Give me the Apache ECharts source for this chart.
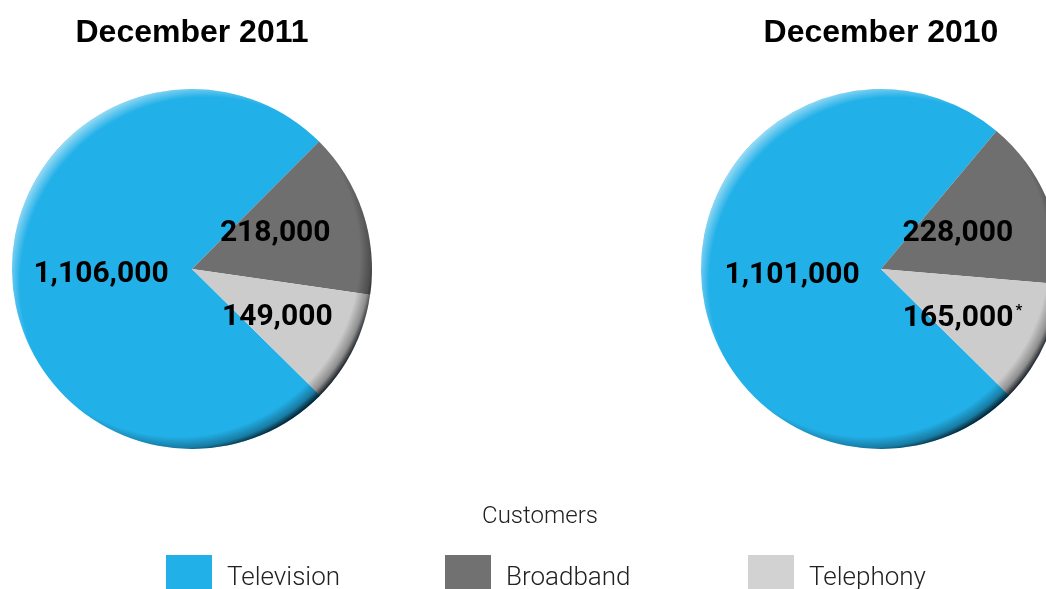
<!DOCTYPE html>
<html>
<head>
<meta charset="utf-8">
<script src="https://cdn.jsdelivr.net/npm/echarts@6/dist/echarts.min.js"></script>
<style>
html,body{margin:0;padding:0;background:#fff;}
#chart{width:1046px;height:589px;}
</style>
</head>
<body>
<div id="chart"></div>
<script>
const categories = ['Television', 'Broadband', 'Telephony'];
const customers2011 = [1106000, 218000, 149000];
const customers2010 = [1101000, 228000, 165000];
const notes2011 = ['', '', ''];
const notes2010 = ['', '', '*'];
const pieTitles = ['December 2011', 'December 2010'];
const legendTitle = 'Customers';

// styling
const colors = ['#22b0e8', '#6f6f6f', '#cccccc'];
const legendColors = ['#22b0e8', '#717171', '#d2d2d2'];
const R = 180;
const centers = [[192, 269], [881, 269]];
const titleLefts = [187, 876];
const labelOffsets2011 = [[2, 5], [-5, -6], [2, 7]];
const labelOffsets2010 = [[4, 2], [-9, 0], [-3, 11]];

function fmt(v) { return v.toLocaleString('en-US'); }

function mainSeries(values, notes, center, offsets) {
  return {
    type: 'pie',
    center: center,
    radius: R,
    startAngle: 315.4,
    clockwise: true,
    avoidLabelOverlap: false,
    silent: true,
    z: 2,
    label: {
      show: true,
      position: 'inside',
      formatter: function (p) {
        const n = notes[p.dataIndex];
        return '{v|' + fmt(p.value) + '}' + (n ? '{s|' + n + '}' : '');
      },
      rich: {
        v: { fontFamily: 'Roboto', fontWeight: 'bold', fontSize: 30, color: '#000' },
        s: { fontFamily: 'Roboto', fontWeight: 'bold', fontSize: 15, color: '#000', verticalAlign: 'top', padding: [0, 0, 14, 2] }
      }
    },
    labelLine: { show: false },
    emphasis: { disabled: true },
    data: categories.map((c, i) => ({
      name: c, value: values[i],
      itemStyle: { color: colors[i] },
      label: { offset: offsets[i] }
    }))
  };
}

function overlay(center, dx, stops) {
  return {
    type: 'pie',
    center: center,
    radius: R,
    silent: true,
    z: 3,
    label: { show: false },
    labelLine: { show: false },
    emphasis: { disabled: true },
    data: [{
      name: '',
      value: 1,
      itemStyle: {
        color: {
          type: 'radial', global: true,
          x: center[0] + dx, y: center[1] + dx, r: R + Math.abs(dx) * Math.SQRT2,
          colorStops: stops
        }
      }
    }]
  };
}

const shadowStops = [
  { offset: 0, color: 'rgba(0,0,0,0)' },
  { offset: 0.91, color: 'rgba(0,0,0,0)' },
  { offset: 0.965, color: 'rgba(0,0,0,0.3)' },
  { offset: 1, color: 'rgba(0,10,20,0.9)' }
];
const lightStops = [
  { offset: 0, color: 'rgba(255,255,255,0)' },
  { offset: 0.93, color: 'rgba(255,255,255,0)' },
  { offset: 1, color: 'rgba(255,255,255,0.55)' }
];

const legendLefts = [166, 445, 748];

const option = {
  animation: false,
  backgroundColor: '#ffffff',
  title: [
    { text: pieTitles[0], left: titleLefts[0], top: 12, textAlign: 'center',
      textStyle: { fontFamily: 'Liberation Sans', fontWeight: 'bold', fontSize: 32, color: '#000' } },
    { text: pieTitles[1], left: titleLefts[1], top: 12, textAlign: 'center',
      textStyle: { fontFamily: 'Liberation Sans', fontWeight: 'bold', fontSize: 32, color: '#000' } },
    { text: legendTitle, left: 535, top: 500, textAlign: 'center',
      textStyle: { fontFamily: 'Roboto', fontWeight: 300, fontSize: 24, color: '#222' } }
  ],
  legend: categories.map((c, i) => ({
    left: legendLefts[i],
    top: 555,
    orient: 'horizontal',
    icon: 'rect',
    itemWidth: 46,
    itemHeight: 34,
    itemGap: 16,
    selectedMode: false,
    padding: 0,
    formatter: '{t|{name}}',
    textStyle: {
      rich: {
        t: { fontFamily: 'Roboto', fontWeight: 300, fontSize: 26, color: '#222', padding: [12, 0, 0, 10] }
      }
    },
    data: [{ name: c, itemStyle: { color: legendColors[i] } }]
  })),
  series: [
    mainSeries(customers2011, notes2011, centers[0], labelOffsets2011),
    overlay(centers[0], -14, shadowStops),
    overlay(centers[0], 14, lightStops),
    mainSeries(customers2010, notes2010, centers[1], labelOffsets2010),
    overlay(centers[1], -14, shadowStops),
    overlay(centers[1], 14, lightStops)
  ]
};

const chart = echarts.init(document.getElementById('chart'), null, { renderer: 'canvas' });
chart.setOption(option);
</script>
</body>
</html>
